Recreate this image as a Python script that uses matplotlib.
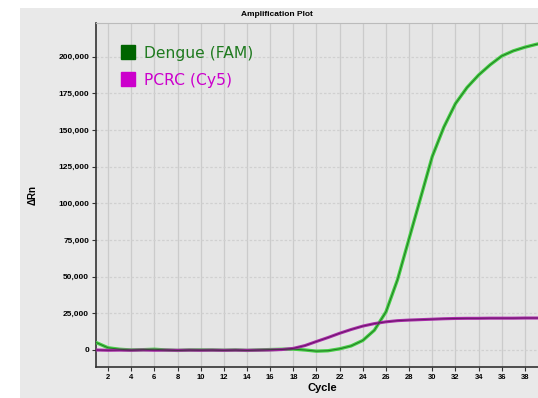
import numpy as np
import matplotlib.pyplot as plt
from matplotlib.patches import Rectangle
from matplotlib.lines import Line2D

# qPCR amplification data, one value per cycle
cycles = list(range(1, 41))
dengue_fam = [5000, 1500, 500, 0, 200, 500, 0, -300, 0, 0,
              0, -200, 0, -300, 0, 300, 500, 600, 0, -800,
              -500, 800, 2800, 6500, 13500, 26000, 48000, 76000, 104000, 132000,
              152000, 168000, 179000, 187500, 194500, 200500, 204000, 206500, 208500, 210000]
pcrc_cy5 = [0, -200, -100, -200, 0, -200, -100, -200, -100, -200,
            -100, -200, -100, -200, -100, 0, 300, 1100, 3000, 5800,
            8500, 11400, 14000, 16300, 18000, 19200, 20000, 20400, 20700, 21000,
            21300, 21500, 21600, 21600, 21700, 21700, 21700, 21800, 21800, 21800]
series_names = ["Dengue (FAM)", "PCRC (Cy5)"]

x_ticks = list(range(2, 40, 2))
y_ticks = list(range(0, 200001, 25000))

tick_font = {"family": "Liberation Sans", "weight": "bold", "size": 5.5}

fig = plt.figure(figsize=(5.38, 3.98), dpi=100)
fig.patch.set_facecolor("white")
# gray panel behind the plot
fig.add_artist(Rectangle((20 / 538, 0), 1, 1 - 8 / 398, transform=fig.transFigure,
                         facecolor="#e9e9e9", edgecolor="none", zorder=-10))

ax = fig.add_axes([96 / 538, 1 - 367 / 398, 1 - 96 / 538, (367 - 23) / 398])
ax.set_facecolor("#e5e5e5")

x = np.array(cycles)
ax.plot(x, dengue_fam, color="#45cf45", lw=2.4, solid_capstyle="round", zorder=3)
ax.plot(x, dengue_fam, color="#1d6a1d", lw=0.7, alpha=0.85, zorder=4)
ax.plot(x, pcrc_cy5, color="#a82ca8", lw=2.2, solid_capstyle="round", zorder=3)
ax.plot(x, pcrc_cy5, color="#5a105a", lw=0.7, alpha=0.8, zorder=4)

ax.set_xlim(0.96, 39.13)
ax.set_ylim(-11600, 223000)
ax.set_xticks(x_ticks)
ax.set_yticks(y_ticks)
ax.set_xticklabels([str(t) for t in x_ticks], fontdict=tick_font)
ax.set_yticklabels([f"{t:,}" for t in y_ticks], fontdict=dict(tick_font, size=6))
ax.tick_params(axis="both", length=3, width=0.8, color="#333333", pad=2)

ax.grid(axis="x", color="#cbcbcb", lw=0.9, ls="-")
ax.grid(axis="y", color="#d0d0d0", lw=0.9, ls=(0, (2, 1.5)))
ax.set_axisbelow(True)

ax.spines["right"].set_visible(False)
ax.spines["top"].set_color("#bbbbbb")
ax.spines["left"].set_color("#333333")
ax.spines["bottom"].set_color("#333333")
ax.spines["left"].set_linewidth(1.2)
ax.spines["bottom"].set_linewidth(1.2)

fig.text(277 / 538, 1 - 14 / 398, "Amplification Plot", ha="center", va="center",
         family="Liberation Sans", weight="bold", size=6)
fig.text(322 / 538, 1 - 388 / 398, "Cycle", ha="center", va="center",
         family="Liberation Sans", weight="bold", size=8)
fig.text(33 / 538, 1 - 195 / 398, "\u0394Rn", ha="center", va="center", rotation=90,
         family="Liberation Sans", weight="bold", size=7)

handles = [Line2D([], [], ls="none", marker="s", markersize=10, color="#006400"),
           Line2D([], [], ls="none", marker="s", markersize=10, color="#cc00cc")]
leg = ax.legend(handles, series_names, loc="upper left", bbox_to_anchor=(0.04, 0.952),
                frameon=False, handletextpad=0.55, labelspacing=0.78, fontsize=11.2,
                handlelength=1.0, borderaxespad=0)
for txt, col in zip(leg.get_texts(), ["#1f7a1f", "#cc00cc"]):
    txt.set_color(col)

fig.savefig("out.png", dpi=100)
